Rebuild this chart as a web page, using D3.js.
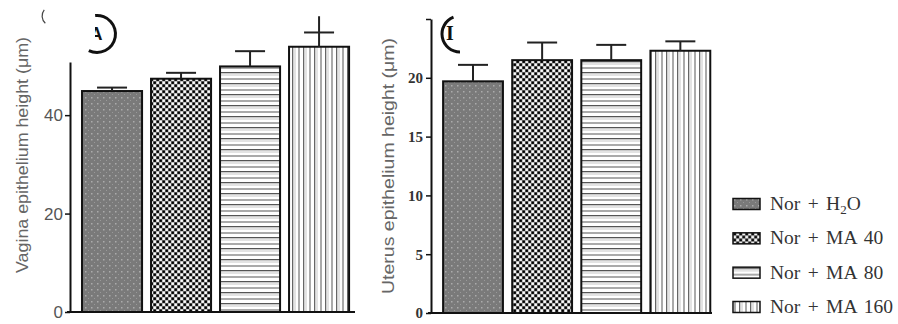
<!DOCTYPE html>
<html>
<head>
<meta charset="utf-8">
<script src="https://cdn.jsdelivr.net/npm/d3@7"></script>
<style>
  body { margin: 0; background: #fff; }
  svg { display: block; }
</style>
</head>
<body>
<svg id="chart" width="898" height="324"></svg>
<script>
const groups = ["Nor + H2O", "Nor + MA 40", "Nor + MA 80", "Nor + MA 160"];
const patterns = ["pDots", "pCheck", "pHoriz", "pVert"];

// panel A : vagina
const vaginaMean = [44.9, 47.4, 49.9, 53.9];
const vaginaErr = [45.6, 48.6, 53.0, 56.8];
const vaginaStem = [45.6, 48.6, 53.0, 60.1];
const vaginaTicks = [0, 20, 40];

// panel B : uterus
const uterusMean = [19.7, 21.5, 21.5, 22.3];
const uterusErr = [21.1, 23.0, 22.8, 23.1];
const uterusTicks = [0, 5, 10, 15, 20, 25];

const svg = d3.select("#chart");
const defs = svg.append("defs");

// fill patterns
const p1 = defs.append("pattern").attr("id", "pDots").attr("patternUnits", "userSpaceOnUse")
  .attr("width", 6).attr("height", 6);
p1.append("rect").attr("width", 6).attr("height", 6).attr("fill", "#7a7a7a");
p1.append("rect").attr("x", 1).attr("y", 1).attr("width", 1.5).attr("height", 1.5).attr("fill", "#ababab");
p1.append("rect").attr("x", 4).attr("y", 4).attr("width", 1).attr("height", 1).attr("fill", "#999");

const p2 = defs.append("pattern").attr("id", "pCheck").attr("patternUnits", "userSpaceOnUse")
  .attr("width", 6).attr("height", 6);
p2.append("rect").attr("width", 6).attr("height", 6).attr("fill", "#8c8c8c");
p2.append("rect").attr("x", 0.5).attr("y", 0.5).attr("width", 2.4).attr("height", 2.4).attr("fill", "#000");
p2.append("rect").attr("x", 3.5).attr("y", 3.5).attr("width", 2.4).attr("height", 2.4).attr("fill", "#000");
p2.append("rect").attr("x", 3.5).attr("y", 0.5).attr("width", 2.4).attr("height", 2.4).attr("fill", "#fff");
p2.append("rect").attr("x", 0.5).attr("y", 3.5).attr("width", 2.4).attr("height", 2.4).attr("fill", "#fff");

const p3 = defs.append("pattern").attr("id", "pHoriz").attr("patternUnits", "userSpaceOnUse")
  .attr("width", 10).attr("height", 11);
p3.append("rect").attr("width", 10).attr("height", 11).attr("fill", "#fff");
p3.append("rect").attr("y", 1).attr("width", 10).attr("height", 2).attr("fill", "#aaa");
p3.append("rect").attr("y", 6).attr("width", 10).attr("height", 1.3).attr("fill", "#555");
p3.append("rect").attr("y", 8.5).attr("width", 10).attr("height", 1).attr("fill", "#c8c8c8");

const p4 = defs.append("pattern").attr("id", "pVert").attr("patternUnits", "userSpaceOnUse")
  .attr("width", 11).attr("height", 10);
p4.append("rect").attr("width", 11).attr("height", 10).attr("fill", "#fff");
p4.append("rect").attr("x", 1).attr("width", 2).attr("height", 10).attr("fill", "#aaa");
p4.append("rect").attr("x", 6).attr("width", 1.3).attr("height", 10).attr("fill", "#666");
p4.append("rect").attr("x", 8.5).attr("width", 1).attr("height", 10).attr("fill", "#c8c8c8");

function panel(opts) {
  const x = d3.scaleBand().domain(groups).range(opts.xRange)
    .paddingInner(opts.padIn).paddingOuter(opts.padOut).align(opts.align);
  const y = d3.scaleLinear().domain(opts.yDomain).range(opts.yRange);
  const g = svg.append("g");
  const rows = groups.map((k, i) => ({ k, i, m: opts.mean[i], e: opts.err[i], s: opts.stem[i] }));

  // bars
  g.selectAll("rect.bar").data(rows).enter().append("rect")
    .attr("class", "bar")
    .attr("x", d => x(d.k))
    .attr("y", d => y(d.m))
    .attr("width", x.bandwidth())
    .attr("height", d => y(0) - y(d.m))
    .attr("fill", d => `url(#${patterns[d.i]})`)
    .attr("stroke", "#111")
    .attr("stroke-width", 2);

  // error bars
  g.selectAll("line.stem").data(rows).enter().append("line")
    .attr("x1", d => x(d.k) + x.bandwidth() / 2)
    .attr("x2", d => x(d.k) + x.bandwidth() / 2)
    .attr("y1", d => y(d.m))
    .attr("y2", d => y(d.s))
    .attr("stroke", "#222").attr("stroke-width", 2);
  g.selectAll("line.cap").data(rows).enter().append("line")
    .attr("x1", d => x(d.k) + x.bandwidth() / 2 - 15)
    .attr("x2", d => x(d.k) + x.bandwidth() / 2 + 15)
    .attr("y1", d => y(d.e))
    .attr("y2", d => y(d.e))
    .attr("stroke", "#222").attr("stroke-width", 2);

  // axes
  const ax = g.append("g")
    .attr("transform", `translate(${opts.xRange[0]},0)`)
    .call(d3.axisLeft(y).tickValues(opts.ticks).tickSize(5).tickSizeOuter(0)
      .tickPadding(opts.tickPad).tickFormat(opts.fmt));
  ax.select(".domain").attr("stroke", "#111").attr("stroke-width", 2);
  ax.selectAll(".tick line").attr("stroke", "#111").attr("stroke-width", 1.5);
  ax.selectAll(".tick text")
    .attr("font-family", opts.tickFont).attr("font-size", opts.tickSize)
    .attr("font-weight", opts.tickWeight).attr("fill", opts.tickColor);

  g.append("line")
    .attr("x1", opts.xRange[0] - 3).attr("x2", opts.xRange[1])
    .attr("y1", y(0)).attr("y2", y(0))
    .attr("stroke", "#111").attr("stroke-width", 2);

  g.append("text")
    .attr("transform", `translate(${opts.titleX},${opts.titleY}) rotate(-90)`)
    .attr("text-anchor", "middle")
    .attr("font-family", "Liberation Sans, Arial, sans-serif")
    .attr("font-size", opts.titleSize)
    .attr("fill", "#666")
    .attr("textLength", opts.titleLen)
    .attr("lengthAdjust", "spacingAndGlyphs")
    .text(opts.title);
}

panel({
  mean: vaginaMean, err: vaginaErr, stem: vaginaStem, ticks: vaginaTicks,
  xRange: [70, 355], padIn: 0.13, padOut: 0.13, align: 0.67,
  yDomain: [0, 50.8], yRange: [312, 62],
  tickPad: 2, tickFont: "Liberation Sans, Arial, sans-serif", tickSize: 17, tickWeight: "normal",
  tickColor: "#555", fmt: d3.format("d"),
  title: "Vagina epithelium height (μm)", titleX: 28, titleY: 155, titleSize: 17, titleLen: 236
});

panel({
  mean: uterusMean, err: uterusErr, stem: uterusErr, ticks: uterusTicks,
  xRange: [431, 712], padIn: 0.134, padOut: 0.1, align: 0.875,
  yDomain: [0, 25], yRange: [313, 19],
  tickPad: 3, tickFont: "Liberation Serif, Times New Roman, serif", tickSize: 15, tickWeight: "bold",
  tickColor: "#333", fmt: d => d === 25 ? "" : d,
  title: "Uterus epithelium height (μm)", titleX: 394, titleY: 166, titleSize: 17, titleLen: 256
});

// panel letters (partially cut off in the original)
const arc = d3.arc();
svg.append("path")
  .attr("transform", "translate(97,34)")
  .attr("d", arc({ innerRadius: 17, outerRadius: 20, startAngle: -0.1, endAngle: 3.6 }))
  .attr("fill", "#111");
defs.append("clipPath").attr("id", "clipA").append("rect")
  .attr("x", 95).attr("y", 20).attr("width", 20).attr("height", 22);
svg.append("text")
  .attr("x", 96).attr("y", 40)
  .attr("clip-path", "url(#clipA)")
  .attr("font-family", "Liberation Sans, Arial, sans-serif")
  .attr("font-weight", "bold").attr("font-size", 18)
  .attr("fill", "#111").attr("text-anchor", "middle")
  .text("A");
svg.append("path")
  .attr("transform", "translate(52,16)")
  .attr("d", arc({ innerRadius: 9.3, outerRadius: 10.5, startAngle: -2.4, endAngle: -0.9 }))
  .attr("fill", "#444");

svg.append("path")
  .attr("transform", "translate(460,34)")
  .attr("d", arc({ innerRadius: 16.5, outerRadius: 19.5, startAngle: -Math.PI, endAngle: -0.37 }))
  .attr("fill", "#111");
svg.append("text")
  .attr("x", 450).attr("y", 40)
  .attr("font-family", "Liberation Serif, Times New Roman, serif")
  .attr("font-weight", "bold").attr("font-size", 20)
  .attr("fill", "#111").attr("text-anchor", "middle")
  .text("I");

// legend
const legY = d3.scalePoint().domain(groups).range([204, 307]);
const leg = svg.append("g");
const items = leg.selectAll("g").data(groups).enter().append("g")
  .attr("transform", d => `translate(733,${legY(d)})`);
items.append("rect")
  .attr("x", 0).attr("y", -5.5).attr("width", 27).attr("height", 11)
  .attr("fill", (d, i) => `url(#${patterns[i]})`)
  .attr("stroke", "#111").attr("stroke-width", 1.5);
const lt = items.append("text")
  .attr("x", 37).attr("y", 6)
  .attr("font-family", "Liberation Serif, Times New Roman, serif")
  .attr("font-size", 19.5).attr("word-spacing", 2.5).attr("fill", "#333");
lt.each(function (d) {
  const t = d3.select(this);
  if (d.endsWith("H2O")) {
    t.append("tspan").text("Nor + H");
    t.append("tspan").attr("font-size", 13).attr("dy", 4).text("2");
    t.append("tspan").attr("dy", -4).text("O");
  } else {
    t.text(d);
  }
});
</script>
</body>
</html>
